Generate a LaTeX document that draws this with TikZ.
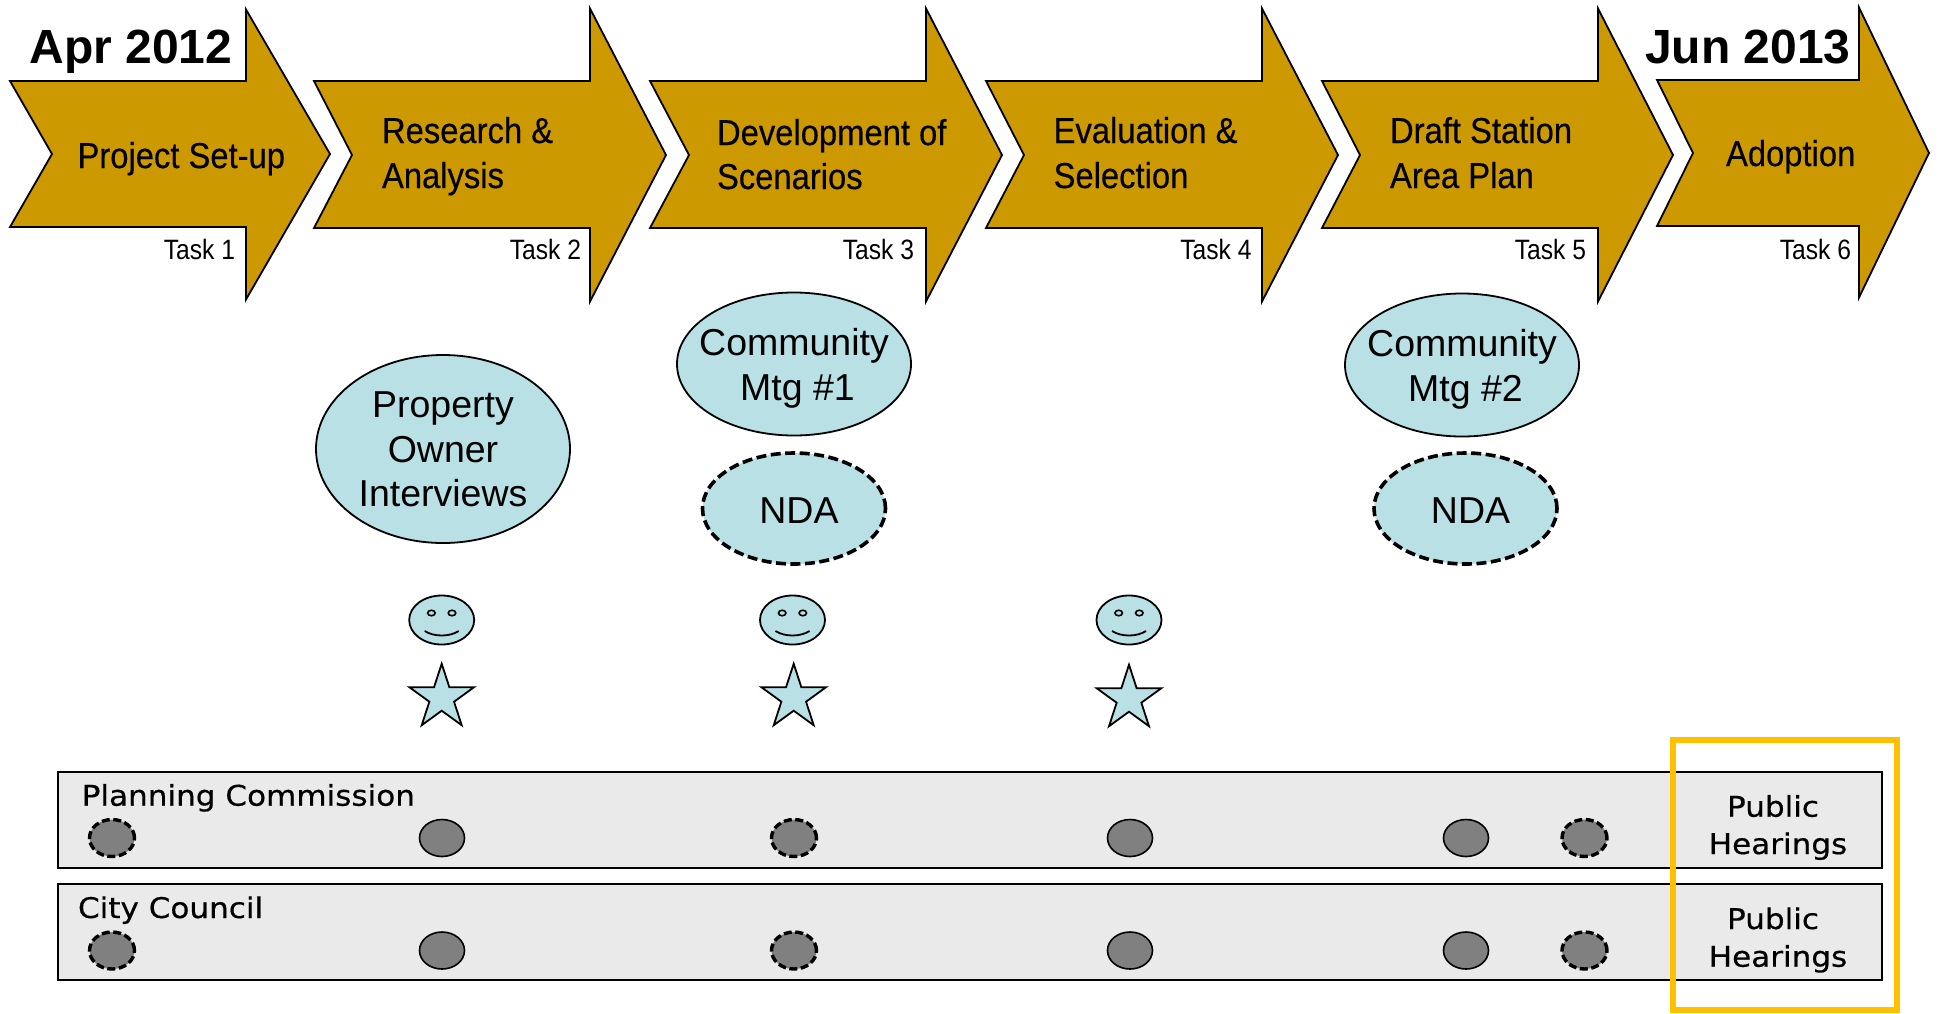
\documentclass[tikz,border=0pt]{standalone}
\usepackage{fontspec}
\usetikzlibrary{shapes.geometric}
\setmainfont{Liberation Sans}
\newfontfamily\narrowf[FakeStretch=0.91,FakeBold=0.35]{Liberation Sans}
\newfontfamily\tasknarrow[FakeStretch=0.88]{Liberation Sans}
\newfontfamily\lucidaf[FakeStretch=1.09,FakeBold=0.5]{DejaVu Sans}
\definecolor{gold}{HTML}{CC9900}
\definecolor{paleblue}{HTML}{B9E0E4}
\definecolor{dotgray}{HTML}{808080}
\definecolor{bargray}{HTML}{EAEAEA}
\definecolor{hiorange}{HTML}{FFC000}
\newcommand{\chevshape}[9]{\draw[chevron] (#1,#6)--(#3,#6)--(#3,#5)--(#4,#7)--(#3,#9)--(#3,#8)--(#1,#8)--(#2,#7)--cycle;}
\newcommand{\smileyface}[2]{%
  \node[smile] (#1) at (#2,620) {};
  \node[smileeye] (#1L) at ([xshift=-10.3pt,yshift=7pt]#1.center) {};
  \node[smileeye] (#1R) at ([xshift=10.3pt,yshift=7pt]#1.center) {};
  \coordinate (#1a) at ([xshift=-17pt,yshift=-11pt]#1.center);
  \coordinate (#1b) at ([xshift=17pt,yshift=-11pt]#1.center);
  \draw[line width=1.8pt] (#1a) .. controls ([xshift=9pt,yshift=-6pt]#1a) and ([xshift=-9pt,yshift=-6pt]#1b) .. (#1b);
}
\tikzset{
  x=1pt,y=-1pt,
  chevron/.style={draw=black,fill=gold,line width=1.8pt,line join=miter},
  lab/.style={inner sep=0pt,outer sep=0pt,anchor=base west},
  labr/.style={inner sep=0pt,outer sep=0pt,anchor=base east},
  tasktitle/.style={lab,font=\narrowf\fontsize{36}{45}\selectfont},
  tasktag/.style={labr,font=\tasknarrow\fontsize{28}{32}\selectfont},
  datelabel/.style={lab,font=\bfseries\fontsize{48}{52}\selectfont},
  meeting/.style={ellipse,draw=black,fill=paleblue,line width=1.8pt,inner sep=0pt},
  ovaltext/.style={inner sep=0pt,align=center,font=\fontsize{37.5}{44.5}\selectfont},
  ndaoval/.style={meeting,line width=3.6pt,dash pattern=on 10pt off 4.5pt},
  smile/.style={ellipse,draw=black,fill=paleblue,line width=1.8pt,inner sep=0pt,minimum width=65pt,minimum height=49pt},
  smileeye/.style={ellipse,draw=black,line width=1.6pt,inner sep=0pt,minimum width=7.5pt,minimum height=5.5pt},
  starmark/.style={star,star points=5,star point ratio=2.618,draw=black,fill=paleblue,line width=1.8pt,inner sep=0pt,minimum size=68pt},
  barbox/.style={draw=black,fill=bargray,line width=1.8pt,inner sep=0pt},
  dot/.style={ellipse,draw=black,fill=dotgray,line width=1.6pt,inner sep=0pt,minimum width=45pt,minimum height=37pt},
  dashdot/.style={dot,line width=3.4pt,dash pattern=on 8pt off 3.5pt},
  bodylab/.style={lab,font=\lucidaf\fontsize{28.5}{37}\selectfont},
}
\begin{document}
\begin{tikzpicture}
\useasboundingbox (0,0) rectangle (1939,1013);
% chevrons
\chevshape{10}{52}{246}{330}{9.5}{81}{154}{227}{299.5}
\chevshape{314}{352}{590}{666}{8.5}{81}{155}{228}{301.5}
\chevshape{650}{689}{926}{1002}{8.5}{81}{155}{228}{301.5}
\chevshape{986}{1024}{1262}{1338}{8.5}{81}{155}{228}{301.5}
\chevshape{1322}{1360}{1598}{1673}{8.5}{81}{155}{228}{301.5}
\chevshape{1657}{1693}{1859}{1929}{7.5}{80}{153}{226}{297.5}
% titles
\node[datelabel] (apr) at (29.5,63) {Apr 2012};
\node[datelabel] (jun) at (1645,63) {Jun 2013};
\node[tasktitle] (t1) at (77.5,168) {Project Set-up};
\node[tasktitle] (t2a) at (382,143) {Research \&};
\node[tasktitle] (t2b) at (382,188) {Analysis};
\node[tasktitle] (t3a) at (717,145) {Development of};
\node[tasktitle] (t3b) at (717,189) {Scenarios};
\node[tasktitle] (t4a) at (1053.6,143) {Evaluation \&};
\node[tasktitle] (t4b) at (1053.6,188) {Selection};
\node[tasktitle] (t5a) at (1390,143) {Draft Station};
\node[tasktitle] (t5b) at (1390,188) {Area Plan};
\node[tasktitle] (t6) at (1726,166) {Adoption};
\node[tasktag] (k1) at (235,259) {Task 1};
\node[tasktag] (k2) at (581,259) {Task 2};
\node[tasktag] (k3) at (914,259) {Task 3};
\node[tasktag] (k4) at (1251.5,259) {Task 4};
\node[tasktag] (k5) at (1586,259) {Task 5};
\node[tasktag] (k6) at (1851,259) {Task 6};
% meetings
\node[meeting,minimum width=254pt,minimum height=188pt] (prop) at (443,449) {};
\node[meeting,minimum width=234pt,minimum height=143pt] (cm1) at (794,364) {};
\node[meeting,minimum width=234pt,minimum height=143pt] (cm2) at (1462,365) {};
\node[ndaoval,minimum width=183pt,minimum height=111pt] (nda1) at (794,508.5) {};
\node[ndaoval,minimum width=183pt,minimum height=111pt] (nda2) at (1465.5,508.5) {};
\node[ovaltext] (propt) at (443,449.7) {Property\\Owner\\Interviews};
\node[ovaltext] (cm1t) at (794,368.5) {Community\\\hspace*{7pt}Mtg \#1};
\node[ovaltext] (cm2t) at (1462,369.5) {Community\\\hspace*{7pt}Mtg \#2};
\node[ovaltext] (nda1t) at (799,510.5) {NDA};
\node[ovaltext] (nda2t) at (1470.5,510.5) {NDA};
% faces and stars
\smileyface{f1}{441.7}
\smileyface{f2}{792.5}
\smileyface{f3}{1129}
\node[starmark] (s1) at (441.7,697.7) {};
\node[starmark] (s2) at (793.7,697.7) {};
\node[starmark] (s3) at (1129,698.7) {};
% bars
\path[barbox,draw] (58,772) rectangle (1882,868);
\path[barbox,draw] (58,884) rectangle (1882,980);
\node[bodylab] (pc) at (81.7,805.7) {Planning Commission};
\node[bodylab] (cc) at (78,918) {City Council};
\node[dashdot] (p1) at (112,838) {};
\node[dot] (p2) at (442,838) {};
\node[dashdot] (p3) at (794,838) {};
\node[dot] (p4) at (1130,838) {};
\node[dot] (p5) at (1466,838) {};
\node[dashdot] (p6) at (1584.5,838) {};
\node[dashdot] (c1) at (112,950.5) {};
\node[dot] (c2) at (442,950.5) {};
\node[dashdot] (c3) at (794,950.5) {};
\node[dot] (c4) at (1130,950.5) {};
\node[dot] (c5) at (1466,950.5) {};
\node[dashdot] (c6) at (1584.5,950.5) {};
\node[bodylab,anchor=base] (ph1a) at (1773,816.7) {Public};
\node[bodylab,anchor=base] (ph1b) at (1778,854) {Hearings};
\node[bodylab,anchor=base] (ph2a) at (1773,929) {Public};
\node[bodylab,anchor=base] (ph2b) at (1778,966.7) {Hearings};
% highlight
\draw[hiorange,line width=5.5pt] (1673,740) rectangle (1897,1010);
\end{tikzpicture}
\end{document}
